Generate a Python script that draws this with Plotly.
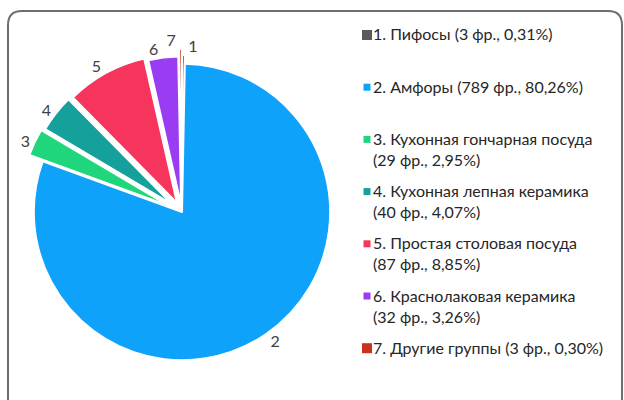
import plotly.graph_objs as go

# data
labels = ["1. Пифосы (3 фр., 0,31%)",
          "2. Амфоры (789 фр., 80,26%)",
          "3. Кухонная гончарная посуда<br>(29 фр., 2,95%)",
          "4. Кухонная лепная керамика<br>(40 фр., 4,07%)",
          "5. Простая столовая посуда<br>(87 фр., 8,85%)",
          "6. Краснолаковая керамика<br>(32 фр., 3,26%)",
          "7. Другие группы (3 фр., 0,30%)"]
counts = [3, 789, 29, 40, 87, 32, 3]
numbers = ["1", "2", "3", "4", "5", "6", "7"]
colors = ["#5a5a5a", "#0ea2fb", "#20d67c", "#16a09b", "#f6345c", "#9a3cf2", "#c9331c"]
pulls = [0.06, 0, 0.1, 0.08, 0.07, 0.05, 0.1]

FONT = "Lato"
W, H = 624, 400
pieDomain = dict(x=[19 / W, 345 / W], y=[(H - 375) / H, (H - 49) / H])

# the small slices near the top crowd each other; plotly would push labels
# away with leader lines, so "6" and "7" go on invisible twin pies
labelSets = [["1", "2", "3", "4", "5"], ["6"], ["7"]]


def makePie(shown, visible):
    return go.Pie(
        labels=labels,
        values=counts,
        text=[n if n in shown else "" for n in numbers],
        textinfo='text',
        textposition='outside',
        textfont=dict(size=16, color='#404040', family=FONT),
        marker=dict(colors=colors if visible else ['rgba(0,0,0,0)'] * len(counts),
                    line=dict(color='white', width=2 if visible else 0)),
        pull=pulls,
        sort=False,
        direction='clockwise',
        rotation=0,
        hoverinfo='label+value+percent' if visible else 'skip',
        domain=pieDomain,
    )


traces = [makePie(s, k == 0) for k, s in enumerate(labelSets)]

# hand-made legend (the reference has gaps plotly's legend can't do)
annotations = []
shapes = []
legendTop = 34      # px, centre of first line
legendPitch = 52.2  # px between entries
lineStep = 21       # px between wrapped lines
for i, (lab, col) in enumerate(zip(labels, colors)):
    yc = legendTop + i * legendPitch
    for j, line in enumerate(lab.split("<br>")):
        annotations.append(dict(
            x=373 / W, y=1 - (yc + j * lineStep) / H,
            xref='paper', yref='paper', xanchor='left', yanchor='middle',
            text=line, showarrow=False, borderpad=0, borderwidth=0,
            font=dict(size=16, color='#262626', family=FONT)))
    sq = 5 if i in (0, 6) else 3.5
    cx = 367
    shapes.append(dict(
        type='rect', xref='paper', yref='paper',
        x0=(cx - sq) / W, x1=(cx + sq) / W,
        y0=1 - (yc + 1 + sq) / H, y1=1 - (yc + 1 - sq) / H,
        fillcolor=col, line=dict(width=0)))

# rounded frame (bottom edge runs off the picture like in the reference)
L, T, R, B, rad = 8 / W, 1 - 11 / H, 622 / W, -0.02, 14
shapes.append(dict(
    type='path', xref='paper', yref='paper',
    path="M {l},{b} L {l},{t1} Q {l},{t} {l1},{t} L {r1},{t} Q {r},{t} {r},{t1} L {r},{b}".format(
        l=L, b=B, t=T, r=R, t1=T - rad / H, l1=L + rad / W, r1=R - rad / W),
    line=dict(color='#6e6e6e', width=2)))

layout = go.Layout(
    width=W, height=H,
    margin=dict(l=0, r=0, t=0, b=0, autoexpand=False),
    paper_bgcolor='white',
    font=dict(family=FONT, size=16, color='#262626'),
    showlegend=False,
    annotations=annotations,
    shapes=shapes,
)

fig = go.Figure(data=traces, layout=layout)
# drop the browser's default 8px body margin so the figure sits at 0,0
fig.write_html("out.html", config={'displayModeBar': False},
               post_script="document.body.style.margin='0';")
